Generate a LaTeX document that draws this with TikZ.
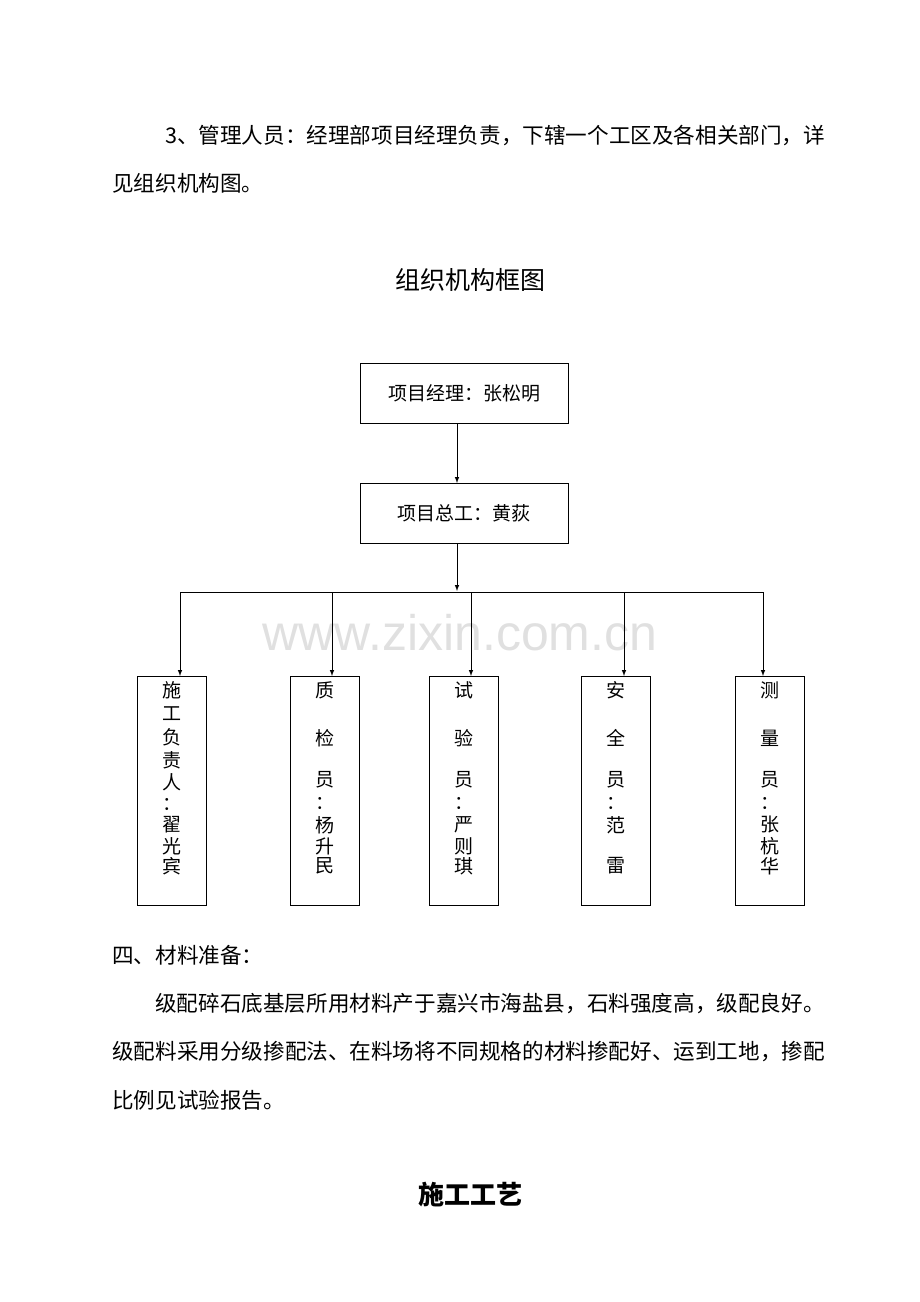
\documentclass[tikz,border=0pt]{standalone}
\usepackage{fontspec}
\setmainfont{Noto Sans CJK SC}
\newfontfamily\wmfont{Liberation Sans}
\begin{document}
\begin{tikzpicture}[x=1pt,y=-1pt,
 txt/.style={anchor=west,inner sep=0pt,font=\fontsize{21.6}{24}\selectfont},
 box/.style={draw,line width=1pt,minimum width=208pt,minimum height=60pt,font=\fontsize{19}{23}\selectfont},
 vbox/.style={draw,line width=1pt,minimum width=69pt,minimum height=229pt,anchor=north},
 ch/.style={inner sep=0pt,font=\fontsize{19}{23}\selectfont},
 arr/.style={-latex,line width=1pt}]
\useasboundingbox (0,0) rectangle (920,1302);
\node[txt] (l1) at (165,135) {3、管理人员：经理部项目经理负责，下辖一个工区及各相关部门，详};
\node[txt] (l2) at (112,183) {见组织机构图。};
\node[inner sep=0pt,font=\fontsize{25}{30}\selectfont] (t) at (470,280) {组织机构框图};
\node[box] (a) at (464,393) {项目经理：张松明};
\node[box] (b) at (464,513) {项目总工：黄荻};
\draw[arr] (457,423) -- (457,483);
\draw[arr] (457,543) -- (457,591);
\node[text=black!12,font=\wmfont\fontsize{50}{56}\selectfont] (w) at (460,633) {www.zixin.com.cn};
\draw[line width=1pt] (180,592) -- (763,592);
\foreach \x/\bx/\n in {180/172/v1,332/325/v2,471/464/v3,624/616/v4,763/770/v5}{
 \node[vbox] (\n) at (\bx,676) {};
 \draw[arr] (\x,592) -- (\x,676);}
\foreach \c/\y in {施/690,工/714,负/737,责/760,人/782,：/804,翟/825,光/846,宾/866} \node[ch] at (172,\y) {\c};
\foreach \c/\y in {质/690,检/738,员/780,：/803,杨/825,升/846,民/866} \node[ch] at (325,\y) {\c};
\foreach \c/\y in {试/690,验/738,员/780,：/803,严/825,则/846,琪/866} \node[ch] at (464,\y) {\c};
\foreach \c/\y in {安/690,全/738,员/780,：/803,范/825,雷/866} \node[ch] at (616,\y) {\c};
\foreach \c/\y in {测/690,量/738,员/780,：/803,张/825,杭/846,华/866} \node[ch] at (770,\y) {\c};
\node[txt] (p0) at (112,955) {四、材料准备：};
\node[txt] (p1) at (155,1003) {级配碎石底基层所用材料产于嘉兴市海盐县，石料强度高，级配良好。};
\node[txt] (p2) at (112,1052) {级配料采用分级掺配法、在料场将不同规格的材料掺配好、运到工地，掺配};
\node[txt] (p3) at (112,1100) {比例见试验报告。};
\node[inner sep=0pt,font=\bfseries\fontsize{26}{30}\selectfont] (t2) at (470,1195) {施工工艺};
\end{tikzpicture}
\end{document}
